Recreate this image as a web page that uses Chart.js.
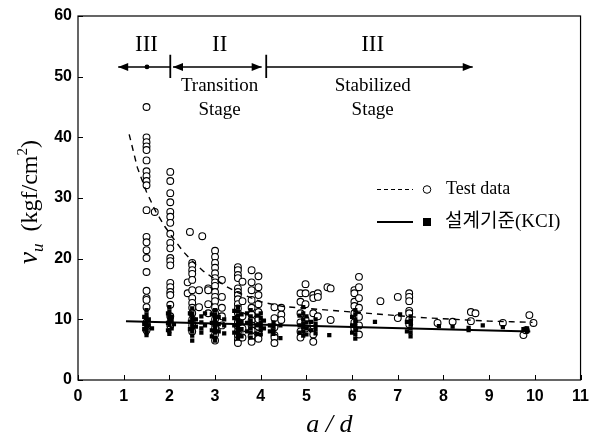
<!DOCTYPE html>
<html lang="en">
<head>
<meta charset="UTF-8">
<title>v_u vs a/d</title>
<script src="https://cdn.jsdelivr.net/npm/chart.js"></script>
<style>
    html, body { margin: 0; padding: 0; background: #fff; }
</style>
</head>
<body>
<canvas id="chart" width="596" height="441"></canvas>
<script>
// tick values
const xTicks = [0, 1, 2, 3, 4, 5, 6, 7, 8, 9, 10, 11];
const yTicks = [0, 10, 20, 30, 40, 50, 60];

// test data (open circles), grouped by a/d column
const testCols = [1.5, 1.68, 2.02, 2.45, 2.72, 2.4, 2.5, 2.65, 2.85, 3.0, 3.15, 3.5, 3.6, 3.8, 3.95,
                  4.3, 4.45, 4.87, 4.98, 5.15, 5.25, 5.46, 5.53, 6.05, 6.15, 6.62, 7.0, 7.25,
                  7.87, 8.2, 8.6, 8.7, 9.3, 9.75, 9.8, 9.88, 9.97];
const testVals = [
    [45.0, 40.0, 39.2, 38.5, 37.9, 36.2, 34.4, 33.6, 32.8, 32.1, 28.0, 23.6, 22.7, 21.4, 20.1, 17.8, 14.7, 13.5, 13.2, 12.0, 9.5, 8.2],
    [27.7],
    [34.3, 32.8, 30.8, 29.3, 27.7, 26.9, 25.9, 24.1, 22.6, 21.7, 20.1, 19.6, 18.9, 16.0, 15.3, 14.5, 14.0, 12.4, 10.5, 9.0],
    [24.4],
    [23.7],
    [16.1, 14.3],
    [19.3, 18.9, 18.1, 17.5, 16.5, 14.8, 13.5, 12.7, 11.9, 11.0, 10.0, 9.0, 8.0],
    [14.8, 12.0],
    [15.1, 14.8, 12.5, 11.0],
    [21.3, 20.3, 19.3, 18.5, 17.6, 16.8, 16.1, 15.5, 14.5, 13.7, 13.0, 12.0, 11.0, 10.0, 9.2, 8.5, 7.5, 6.5],
    [16.5, 13.7, 11.9, 10.5, 9.0],
    [18.6, 18.1, 17.3, 16.8, 15.1, 14.5, 14.0, 13.3, 12.5, 11.8, 11.0, 10.2, 9.5, 8.8, 8.0, 7.3, 6.6, 6.1],
    [16.2, 13.0, 10.5, 8.5, 7.0],
    [18.1, 16.1, 14.8, 13.2, 11.9, 10.8, 9.8, 9.0, 8.2, 7.2, 6.3],
    [17.1, 15.3, 14.0, 12.5, 11.2, 10.0, 8.8, 7.6, 6.8],
    [12.0, 10.2, 8.7, 7.4, 7.0, 6.1],
    [11.9, 10.8, 9.9],
    [14.3, 12.9, 11.0, 9.5, 8.0, 7.0],
    [15.8, 14.3, 12.5, 10.0, 8.5],
    [14.0, 13.5, 11.0, 9.0, 7.5, 6.3],
    [14.3, 13.7, 10.5],
    [15.3],
    [15.1, 9.9],
    [14.8, 14.3, 12.9, 12.2, 11.0, 9.5, 8.5],
    [17.0, 15.3, 13.5, 11.9, 10.4, 9.0, 7.5],
    [13.0],
    [13.7, 10.2],
    [14.3, 13.7, 13.0, 11.4, 11.0, 9.9, 9.2],
    [9.4],
    [9.6],
    [9.7, 11.2],
    [11.0],
    [9.4],
    [7.4],
    [8.2],
    [10.7],
    [9.4]
];

// design code KCI values (filled squares)
const kciCols = [1.45, 1.5, 1.55, 1.62, 1.97, 2.0, 2.05, 2.1, 2.45, 2.5, 2.58, 2.7, 2.78, 2.93, 3.0, 3.08, 3.2,
                 3.42, 3.5, 3.58, 3.7, 3.78, 3.92, 4.0, 4.07, 4.2, 4.28, 4.43, 4.85, 4.93, 5.0, 5.1, 5.2,
                 5.5, 6.0, 6.07, 6.5, 7.05, 7.2, 7.28, 7.9, 8.2, 8.55, 8.86, 9.3, 9.75, 9.83];
const kciVals = [
    [10.4, 9.2, 8.4],
    [11.5, 10.8, 10.2, 9.8, 9.4, 9.0, 8.6, 8.2, 7.8, 7.4],
    [10.0, 9.0],
    [8.5],
    [11.0, 9.4, 8.2],
    [12.0, 11.3, 10.7, 10.1, 9.6, 9.1, 8.0, 7.6],
    [10.4, 9.8, 8.5],
    [9.2],
    [11.0, 9.6, 8.4],
    [11.8, 11.0, 10.4, 9.8, 9.2, 8.6, 8.0, 7.3, 6.5],
    [10.0, 8.8],
    [10.5, 9.5, 8.5, 7.8],
    [11.0, 9.0],
    [10.8, 9.4, 8.2, 7.2],
    [11.5, 10.8, 10.2, 9.6, 9.0, 8.4, 7.8, 7.0, 6.5],
    [10.4, 9.2, 8.0],
    [10.0, 9.0, 7.7],
    [11.4, 10.2, 9.0, 7.8],
    [12.0, 11.3, 10.6, 10.0, 9.5, 9.0, 8.5, 8.0, 7.4, 6.8],
    [10.8, 9.6, 8.4, 7.2],
    [11.0, 9.4, 8.0],
    [11.5, 10.5, 9.8, 9.2, 8.5, 7.8, 7.0],
    [10.6, 9.0, 7.6],
    [11.0, 10.2, 9.5, 8.8, 8.2, 7.5],
    [9.8, 8.5],
    [9.0, 8.0],
    [9.5, 8.8, 8.2, 7.6],
    [9.0, 6.9],
    [10.6, 9.0, 7.8],
    [12.0, 11.0, 10.0, 9.3, 8.7, 8.0, 7.3],
    [10.5, 9.5, 8.5, 7.5],
    [9.6, 8.2],
    [10.0, 9.2, 8.4, 7.7],
    [7.4],
    [10.4, 9.0, 7.8],
    [11.5, 10.8, 10.0, 9.4, 8.8, 8.2, 7.5, 6.8],
    [9.6],
    [10.8],
    [9.6, 8.0],
    [10.5, 9.8, 9.2, 8.5, 7.8, 7.2],
    [8.9],
    [8.8],
    [8.6, 8.2],
    [9.0],
    [8.7],
    [8.4],
    [8.5, 8.0]
];

// trend of test data (dashed) and KCI (solid)
const trendX = [1.12, 1.3, 1.5, 1.7, 1.9, 2.1, 2.3, 2.5, 2.75, 3.0, 3.25, 3.5, 4.0, 4.5, 5.0, 5.5, 6.0, 6.5, 7.0, 7.5, 8.0, 8.5, 9.0, 9.5, 9.95];
const trendY = [40.5, 35.0, 31.0, 27.8, 25.3, 23.2, 21.2, 19.6, 17.9, 16.6, 15.4, 14.4, 12.9, 12.1, 11.8, 11.5, 11.2, 10.9, 10.6, 10.3, 10.1, 9.9, 9.7, 9.6, 9.5];
const kciLineX = [1.05, 9.9];
const kciLineY = [9.7, 8.0];

function toPoints(cols, vals) {
    const pts = [];
    cols.forEach((x, i) => vals[i].forEach(y => pts.push({ x: x, y: y })));
    return pts;
}
function zipLine(xs, ys) {
    return xs.map((x, i) => ({ x: x, y: ys[i] }));
}

const SERIF = "'Liberation Serif', 'Times New Roman', serif";

function arrowHead(ctx, x, y, dir) {
    ctx.beginPath();
    ctx.moveTo(x, y);
    ctx.lineTo(x - dir * 10, y - 4);
    ctx.lineTo(x - dir * 10, y + 4);
    ctx.closePath();
    ctx.fill();
}

const decor = {
    id: 'decor',
    afterDatasetsDraw(chart) {
        const ctx = chart.ctx;
        const a = chart.chartArea;
        const xs = chart.scales.x, ys = chart.scales.y;
        ctx.save();
        ctx.strokeStyle = '#000';
        ctx.fillStyle = '#000';

        // frame
        ctx.lineWidth = 1.2;
        ctx.strokeRect(a.left, a.top, a.right - a.left, a.bottom - a.top);

        // inward ticks
        ctx.lineWidth = 1;
        ctx.beginPath();
        xTicks.forEach(v => {
            const px = Math.round(xs.getPixelForValue(v)) + 0.5;
            ctx.moveTo(px, a.bottom);
            ctx.lineTo(px, a.bottom - 5);
        });
        yTicks.forEach(v => {
            const py = Math.round(ys.getPixelForValue(v)) + 0.5;
            ctx.moveTo(a.left, py);
            ctx.lineTo(a.left + 5, py);
        });
        ctx.stroke();

        // stage arrows
        const ay = ys.getPixelForValue(51.6);
        const X = v => xs.getPixelForValue(v);
        ctx.lineWidth = 1.4;
        ctx.beginPath();
        ctx.moveTo(X(0.88), ay); ctx.lineTo(X(2.02), ay);
        ctx.moveTo(X(2.08), ay); ctx.lineTo(X(4.02), ay);
        ctx.moveTo(X(4.12), ay); ctx.lineTo(X(8.64), ay);
        ctx.stroke();
        arrowHead(ctx, X(0.88), ay, -1);
        arrowHead(ctx, X(2.08), ay, -1);
        arrowHead(ctx, X(4.02), ay, 1);
        arrowHead(ctx, X(8.64), ay, 1);
        ctx.beginPath();
        ctx.arc(X(1.51), ay, 2.4, 0, Math.PI * 2);
        ctx.fill();
        ctx.lineWidth = 1.8;
        ctx.beginPath();
        [2.02, 4.12].forEach(v => {
            ctx.moveTo(X(v), ys.getPixelForValue(53.6));
            ctx.lineTo(X(v), ys.getPixelForValue(49.8));
        });
        ctx.stroke();

        ctx.textAlign = 'center';
        ctx.textBaseline = 'middle';
        ctx.font = '23px ' + SERIF;
        ctx.fillText('III', X(1.5), ys.getPixelForValue(55.2));
        ctx.fillText('II', X(3.1), ys.getPixelForValue(55.2));
        ctx.fillText('III', X(6.45), ys.getPixelForValue(55.2));
        ctx.font = '19px ' + SERIF;
        ctx.fillText('Transition', X(3.1), ys.getPixelForValue(48.4));
        ctx.fillText('Stage', X(3.1), ys.getPixelForValue(44.5));
        ctx.fillText('Stabilized', X(6.45), ys.getPixelForValue(48.4));
        ctx.fillText('Stage', X(6.45), ys.getPixelForValue(44.5));

        // legend
        ctx.lineWidth = 1.2;
        ctx.setLineDash([4, 3]);
        ctx.beginPath(); ctx.moveTo(377, 189.5); ctx.lineTo(413, 189.5); ctx.stroke();
        ctx.setLineDash([]);
        ctx.lineWidth = 1.8;
        ctx.beginPath(); ctx.moveTo(377, 222); ctx.lineTo(413, 222); ctx.stroke();
        ctx.lineWidth = 1;
        ctx.fillStyle = '#fff';
        ctx.beginPath(); ctx.arc(427, 189.5, 3.8, 0, Math.PI * 2); ctx.fill(); ctx.stroke();
        ctx.fillStyle = '#000';
        ctx.fillRect(423, 218, 8, 8);
        ctx.textAlign = 'left';
        ctx.textBaseline = 'middle';
        ctx.font = "18px " + SERIF;
        ctx.fillText('Test data', 446, 189);
        ctx.font = "19px 'Liberation Serif', 'Noto Sans CJK KR', serif";
        ctx.fillText('설계기준(KCI)', 445, 222);

        // y axis title: v_u (kgf/cm^2)
        ctx.save();
        ctx.translate(29, 202);
        ctx.rotate(-Math.PI / 2);
        ctx.textBaseline = 'alphabetic';
        const parts = [
            { t: 'v', f: 'italic 27px ' + SERIF, dy: 0 },
            { t: 'u', f: 'italic 17px ' + SERIF, dy: 6 },
            { t: '  (kgf/cm', f: '24px ' + SERIF, dy: 0 },
            { t: '2', f: '15px ' + SERIF, dy: -10 },
            { t: ')', f: '24px ' + SERIF, dy: 0 }
        ];
        let total = 0;
        parts.forEach(p => { ctx.font = p.f; p.w = ctx.measureText(p.t).width; total += p.w; });
        let cx = -total / 2;
        parts.forEach(p => {
            ctx.font = p.f;
            ctx.fillText(p.t, cx, 8 + p.dy);
            cx += p.w;
        });
        ctx.restore();

        ctx.restore();
    }
};

new Chart(document.getElementById('chart'), {
    type: 'scatter',
    data: {
        datasets: [
            {
                label: 'KCI line',
                data: zipLine(kciLineX, kciLineY),
                showLine: true,
                borderColor: '#000',
                borderWidth: 2,
                pointRadius: 0,
                order: 0
            },
            {
                label: '설계기준(KCI)',
                data: toPoints(kciCols, kciVals),
                pointStyle: 'rect',
                pointRadius: 3,
                backgroundColor: '#000',
                borderColor: '#000',
                borderWidth: 0,
                order: 1
            },
            {
                label: 'Test trend',
                data: zipLine(trendX, trendY),
                showLine: true,
                borderColor: '#000',
                borderWidth: 1.4,
                borderDash: [6, 5],
                pointRadius: 0,
                tension: 0,
                order: 2
            },
            {
                label: 'Test data',
                data: toPoints(testCols, testVals),
                pointStyle: 'circle',
                pointRadius: 3.4,
                backgroundColor: '#fff',
                borderColor: '#000',
                borderWidth: 1.1,
                order: 3
            }
        ]
    },
    options: {
        responsive: false,
        animation: false,
        layout: { padding: { left: 0, right: 14, top: 16, bottom: 0 } },
        plugins: {
            legend: { display: false },
            tooltip: { enabled: false }
        },
        scales: {
            x: {
                type: 'linear',
                min: 0, max: 11,
                afterFit: s => { s.height = 61; },
                afterBuildTicks: s => { s.ticks = xTicks.map(v => ({ value: v })); },
                grid: { display: false, drawTicks: false },
                border: { display: false },
                ticks: {
                    padding: 7,
                    color: '#000',
                    font: { family: "'Liberation Sans', Arial, sans-serif", size: 16, weight: 'bold' }
                },
                title: {
                    display: true,
                    text: 'a / d',
                    color: '#000',
                    padding: { top: 8, bottom: 0 },
                    font: { family: SERIF, size: 26, style: 'italic' }
                }
            },
            y: {
                type: 'linear',
                min: 0, max: 60,
                afterFit: s => { s.width = 78; },
                afterBuildTicks: s => { s.ticks = yTicks.map(v => ({ value: v })); },
                grid: { display: false, drawTicks: false },
                border: { display: false },
                ticks: {
                    padding: 6,
                    color: '#000',
                    font: { family: "'Liberation Sans', Arial, sans-serif", size: 16, weight: 'bold' }
                }
            }
        }
    },
    plugins: [decor]
});
</script>
</body>
</html>
